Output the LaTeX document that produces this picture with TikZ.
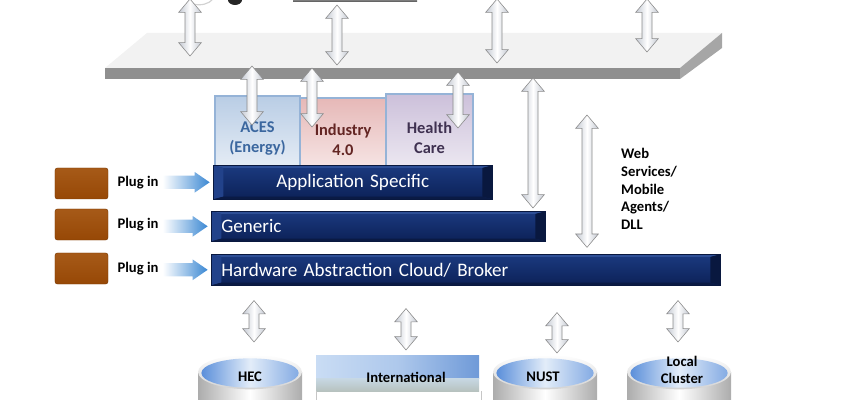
\documentclass[tikz,border=0pt]{standalone}
\usepackage{fontspec}
\setmainfont{Carlito}
\usepackage{tikz}
\usetikzlibrary{calc}
\usepackage{xcolor}
\definecolor{NavyTop}{HTML}{1B3A80}
\definecolor{NavyBot}{HTML}{0C2157}
\definecolor{NavyLight}{HTML}{2E4F96}
\definecolor{NavySide}{HTML}{22428A}
\definecolor{NavyDark}{HTML}{09183F}
\definecolor{BoxEdge}{HTML}{95B3D7}
\definecolor{AcesFill}{HTML}{B9CDE5}
\definecolor{AcesText}{HTML}{3B679F}
\definecolor{IndFill}{HTML}{E6B8B7}
\definecolor{IndText}{HTML}{632523}
\definecolor{HealthFill}{HTML}{CCC0DA}
\definecolor{HealthText}{HTML}{3F3151}
\definecolor{PlugBrown}{HTML}{974806}
\definecolor{PlugBrownLight}{HTML}{A65A18}
\definecolor{PlugBlue}{HTML}{3B88D3}
\definecolor{SlabTop}{HTML}{F2F2F2}
\definecolor{SlabFront}{HTML}{8F8F8F}
\definecolor{SlabSide}{HTML}{A6A6A6}
\definecolor{ArrowEdge}{HTML}{8C8C8C}
\definecolor{ArrowSide}{HTML}{C3C8D2}
\definecolor{CylBlue}{HTML}{5B8FDA}
\definecolor{CylLight}{HTML}{E3EDF9}
\definecolor{IntLeft}{HTML}{C9DCF4}
\definecolor{IntRight}{HTML}{6F9AD8}
\definecolor{IntBand}{HTML}{C5D3CF}
\tikzset{
    % Layer bars - dark blue with bevelled edges
    layer/.style={
        rectangle,
        anchor=north west,
        inner xsep=0.3cm,
        inner ysep=0pt,
        top color=NavyTop,
        bottom color=NavyBot,
        draw=NavyDark,
        line width=0.5pt,
        text=white,
        font=\fontsize{16.3}{18}\selectfont,
        path picture={
            \coordinate (bnw) at (path picture bounding box.north west);
            \coordinate (bne) at (path picture bounding box.north east);
            \coordinate (bsw) at (path picture bounding box.south west);
            \coordinate (bse) at (path picture bounding box.south east);
            \fill[NavyLight] (bnw) -- (bne) -- ([shift={(-0.3cm,-0.08cm)}]bne) -- ([shift={(0.3cm,-0.08cm)}]bnw) -- cycle;
            \fill[NavySide] (bnw) -- ([shift={(0.3cm,-0.08cm)}]bnw) -- ([shift={(0.3cm,0.08cm)}]bsw) -- (bsw) -- cycle;
            \fill[NavyDark] (bne) -- ([shift={(-0.3cm,-0.08cm)}]bne) -- ([shift={(-0.3cm,0.08cm)}]bse) -- (bse) -- cycle;
            \fill[NavyDark!80!NavyBot] (bsw) -- ([shift={(0.3cm,0.08cm)}]bsw) -- ([shift={(-0.3cm,0.08cm)}]bse) -- (bse) -- cycle;
        }
    },
    % Application boxes
    appbox/.style={
        rectangle,
        anchor=north west,
        draw=BoxEdge,
        line width=1.7pt,
        inner sep=0pt,
        align=center,
        font=\bfseries\fontsize{14}{17}\selectfont
    },
    plugbox/.style={
        rectangle,
        rounded corners=2pt,
        minimum width=1.59cm,
        minimum height=0.93cm,
        top color=PlugBrownLight,
        bottom color=PlugBrown,
        draw=PlugBrown!80!black,
        line width=0.4pt
    },
    pluglabel/.style={
        font=\bfseries\fontsize{12.5}{15}\selectfont
    },
    dblabel/.style={
        align=center,
        font=\bfseries\fontsize{12.5}{14.5}\selectfont
    },
    % Block arrows
    vblock/.style={
        to path={
            let \p1=(\tikztostart), \p2=(\tikztotarget) in
            (\x1,\y1) -- (\x1+0.34cm,\y1-0.4cm) -- (\x1+0.15cm,\y1-0.4cm)
            -- (\x2+0.15cm,\y2+0.4cm) -- (\x2+0.34cm,\y2+0.4cm) -- (\x2,\y2)
            -- (\x2-0.34cm,\y2+0.4cm) -- (\x2-0.15cm,\y2+0.4cm)
            -- (\x1-0.15cm,\y1-0.4cm) -- (\x1-0.34cm,\y1-0.4cm) -- cycle
        },
        draw=ArrowEdge,
        line width=0.5pt,
        left color=ArrowSide,
        right color=ArrowSide,
        middle color=white
    },
    hblock/.style={
        to path={
            let \p1=(\tikztostart), \p2=(\tikztotarget) in
            (\x1,\y2+0.2cm) -- (\x2-0.45cm,\y2+0.2cm) -- (\x2-0.45cm,\y2+0.31cm) -- (\x2,\y2)
            -- (\x2-0.45cm,\y2-0.31cm) -- (\x2-0.45cm,\y2-0.2cm) -- (\x1,\y2-0.2cm) -- cycle
        },
        left color=white,
        right color=PlugBlue
    }
}

\begin{document}
\begin{tikzpicture}[x=0.03cm, y=-0.03cm]
    \useasboundingbox (0,0) rectangle (841,400);
    \clip (0,0) rectangle (841,400);

    % Devices at the top edge (cut off)
    \draw[gray!35, line width=1pt] (193,4) .. controls (201,6) and (209,4) .. (213,-1);
    \fill[black!85] (235,0) ellipse [x radius=0.21cm, y radius=0.15cm];
    \shade[top color=gray!45, bottom color=black!70] (293,-3) rectangle (417,2);

    % Cloud slab
    \fill[SlabTop] (147,33) -- (722,33) -- (680,68) -- (105,68) -- cycle;
    \fill[SlabFront] (105,68) rectangle (680,79);
    \fill[SlabSide] (680,68) -- (722,33) -- (722,48) -- (680,79) -- cycle;

    % Application domains
    \node[appbox, minimum width=2.55cm, minimum height=2.55cm,
          top color=AcesFill, bottom color=AcesFill!25, text=AcesText] (aces) at (214,95) {ACES\\(Energy)};
    \node[appbox, minimum width=2.58cm, minimum height=2.49cm,
          top color=IndFill, bottom color=IndFill!25, text=IndText] (indus) at (299,97) {Industry\\4.0};
    \node[appbox, minimum width=2.61cm, minimum height=2.61cm,
          top color=HealthFill, bottom color=HealthFill!25, text=HealthText] (health) at (385,93) {Health\\Care};

    % Layers
    \node[layer, text width=7.77cm, minimum height=1.02cm, align=center] (appbar) at (213,165) {Application Specific};
    \node[layer, text width=9.42cm, minimum height=0.9cm, align=left] (genbar) at (211,211) {Generic};
    \node[layer, text width=14.67cm, minimum height=0.93cm, align=left] (hacbar) at (211,254) {Hardware Abstraction Cloud/ Broker};

    % Plug ins
    \node[plugbox] (plugA) at (81.5,183.5) {};
    \node[plugbox] (plugB) at (81.5,224.5) {};
    \node[plugbox] (plugC) at (81.5,268.5) {};
    \node[pluglabel] (lblA) at (138,183) {Plug in};
    \node[pluglabel] (lblB) at (138,225) {Plug in};
    \node[pluglabel] (lblC) at (138,269) {Plug in};
    \path[hblock] (lblA.east) to ([xshift=-0.1cm]appbar.west);
    \path[hblock] (lblB.east) to ([xshift=-0.1cm]genbar.west);
    \path[hblock] (lblC.east) to ([xshift=-0.1cm]hacbar.west);

    \node[pluglabel, align=left, anchor=west, inner sep=0pt] (wsnote) at (621,189)
        {Web\\Services/\\Mobile\\Agents/\\DLL};

    % Data sources
    \foreach \cx in {250,545,679} {
        \shade[left color=gray!65, right color=gray!65, middle color=white] (\cx-52,372) rectangle (\cx+52,405);
        \shade[top color=white, bottom color=gray!35] (\cx,372) ellipse [x radius=1.56cm, y radius=0.52cm];
        \shade[left color=CylBlue, right color=CylBlue!75, middle color=CylLight] (\cx,373) ellipse [x radius=1.46cm, y radius=0.44cm];
    }
    \shade[left color=IntLeft, right color=IntRight, middle color=IntLeft!70!IntRight] (316,355) rectangle (479,378);
    \shade[top color=IntLeft!60!IntBand, bottom color=IntBand!80!gray] (316,378) rectangle (479,391);
    \draw[gray!45] (316,391) -- (316,400) (481,391) -- (481,400);

    \node[dblabel] (hec) at (250,377) {HEC};
    \node[dblabel] (intl) at (406,377) {International};
    \node[dblabel] (nust) at (543,377) {NUST};
    \node[dblabel] (local) at (682,370) {Local\\Cluster};

    % Arrows to the cloud
    \coordinate (up1) at (190,-1);  \coordinate (in1) at (190,56);
    \coordinate (up2) at (337,5);   \coordinate (in2) at (337,65);
    \coordinate (up3) at (497,-1);  \coordinate (in3) at (497,63);
    \coordinate (up4) at (647,-1);  \coordinate (in4) at (647,52);
    \draw[vblock] (up1) to (in1);
    \draw[vblock] (up2) to (in2);
    \draw[vblock] (up3) to (in3);
    \draw[vblock] (up4) to (in4);

    % Arrows from the cloud
    \coordinate (out1) at (252,66);
    \coordinate (out2) at (312,68);
    \coordinate (out3) at (458,72);
    \coordinate (out4) at (533,78);
    \coordinate (ws) at (587,115);
    \draw[vblock] (out1) to ([yshift=-0.9cm]aces.north -| out1);
    \draw[vblock] (out2) to ([yshift=-0.9cm]indus.north -| out2);
    \draw[vblock] (out3) to ([yshift=-1.05cm]health.north -| out3);
    \draw[vblock] (out4) to ([yshift=0.09cm]genbar.north -| out4);
    \draw[vblock] (ws) to ([yshift=0.2cm]hacbar.north -| ws);

    % Arrows to the data sources
    \coordinate (hecIn) at (254,342);
    \coordinate (intlIn) at (406,350);
    \coordinate (nustIn) at (557,353);
    \coordinate (localIn) at (678,342);
    \draw[vblock] ([yshift=-0.45cm]hacbar.south -| hecIn) to (hecIn);
    \draw[vblock] ([yshift=-0.69cm]hacbar.south -| intlIn) to (intlIn);
    \draw[vblock] ([yshift=-0.81cm]hacbar.south -| nustIn) to (nustIn);
    \draw[vblock] ([yshift=-0.45cm]hacbar.south -| localIn) to (localIn);
\end{tikzpicture}
\end{document}
